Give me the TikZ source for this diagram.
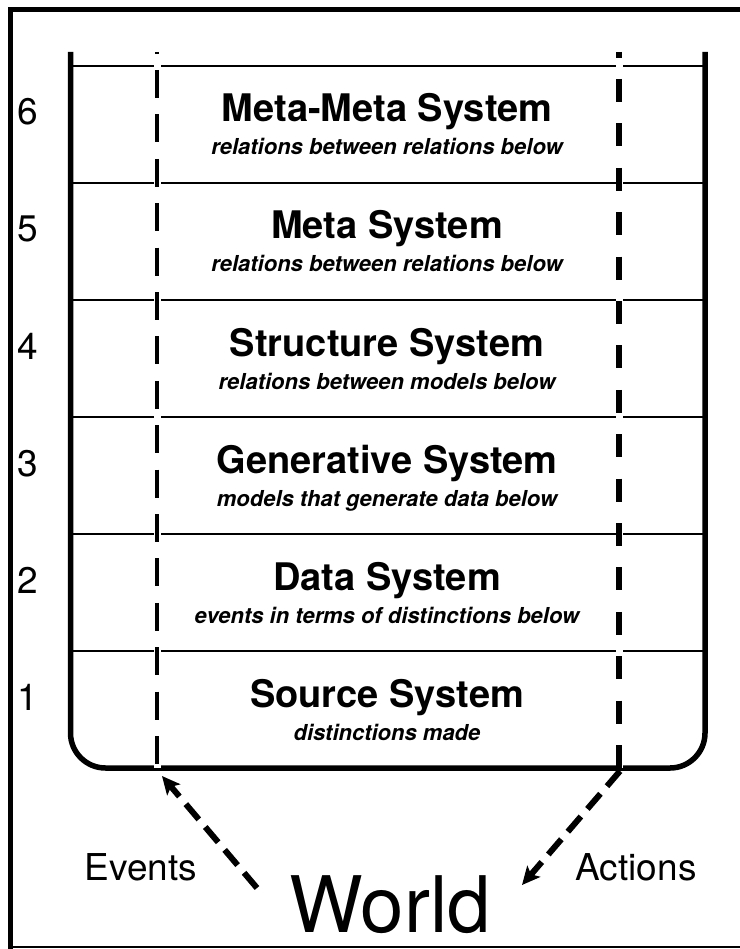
\documentclass[tikz,border=0pt]{standalone}
\usepackage{fontspec}
\setmainfont{TeX Gyre Heros}
\usetikzlibrary{arrows.meta}
\begin{document}
\begin{tikzpicture}[x=1pt,y=-1pt,
  title/.style={font=\fontsize{38}{42}\selectfont\bfseries, inner sep=0, anchor=base},
  sub/.style={font=\fontsize{22}{26}\selectfont\bfseries\itshape, inner sep=0, anchor=base},
  num/.style={font=\fontsize{37}{42}\selectfont, inner sep=0, anchor=base},
  lbl/.style={font=\fontsize{37}{42}\selectfont, inner sep=0, anchor=base},
  bigl/.style={font=\fontsize{78}{84}\selectfont, inner sep=0, anchor=base},
  rowline/.style={line width=2pt},
  wall/.style={line width=5.5pt, rounded corners=35pt},
  casing/.style={white, line width=7pt},
  dashR/.style={line width=6pt, dash pattern=on 23pt off 21.4pt, dash phase=17.4pt},
  dashL/.style={line width=3.5pt, dash pattern=on 28pt off 16.4pt, dash phase=26.4pt},
  flow/.style={line width=6pt, dash pattern=on 20pt off 10pt,
    -{Stealth[length=18pt,width=17pt,inset=4pt]}},
  frame/.style={line width=5pt, line cap=rect}
]
\useasboundingbox (0,0) rectangle (739,949);
% outer frame
\draw[frame] (745,9.5) -- (10.5,9.5) -- (10.5,952);
\draw[line width=2pt] (8,946.5) -- (745,946.5);
% row separators
\foreach \yy in {66,183,300,417,534,651}
  \draw[rowline] (70,\yy) -- (705,\yy);
% container
\draw[wall] (70.5,52) -- (70.5,768) -- (705,768) -- (705,52);
% row texts
\foreach \lev/\ti/\su in {6/Meta-Meta System/relations between relations below,
  5/Meta System/relations between relations below,
  4/Structure System/relations between models below,
  3/Generative System/models that generate data below,
  2/Data System/events in terms of distinctions below,
  1/Source System/distinctions made}{
  \pgfmathsetmacro\tp{66+(6-\lev)*117}
  \node[title] (t\lev) at (387,\tp+56) {\ti};
  \node[sub] (s\lev) at (387,\tp+89) {\su};
  \node[num] (n\lev) at (27.5,\tp+59) {\lev};
}
% dashed channels
\coordinate (lt) at (157,52);
\coordinate (lb) at (157,768);
\coordinate (rt) at (619,52);
\coordinate (rb) at (619,768);
\draw[casing] (lt) -- (lb);
\draw[casing] (rt) -- (rb);
\draw[dashL] (lt) -- (lb);
\draw[dashR] (rt) -- (rb);
% world and labels
\node[bigl] (world) at (390,932) {World};
\node[lbl] (events) at (141,880) {Events};
\node[lbl] (actions) at (636,880) {Actions};
\coordinate (evtail) at (257,888);
\coordinate (evhead) at (162,776);
\coordinate (actail) at (620,771);
\coordinate (achead) at (522,885);
\draw[flow] (evtail) -- (evhead);
\draw[flow] (actail) -- (achead);
\end{tikzpicture}
\end{document}
